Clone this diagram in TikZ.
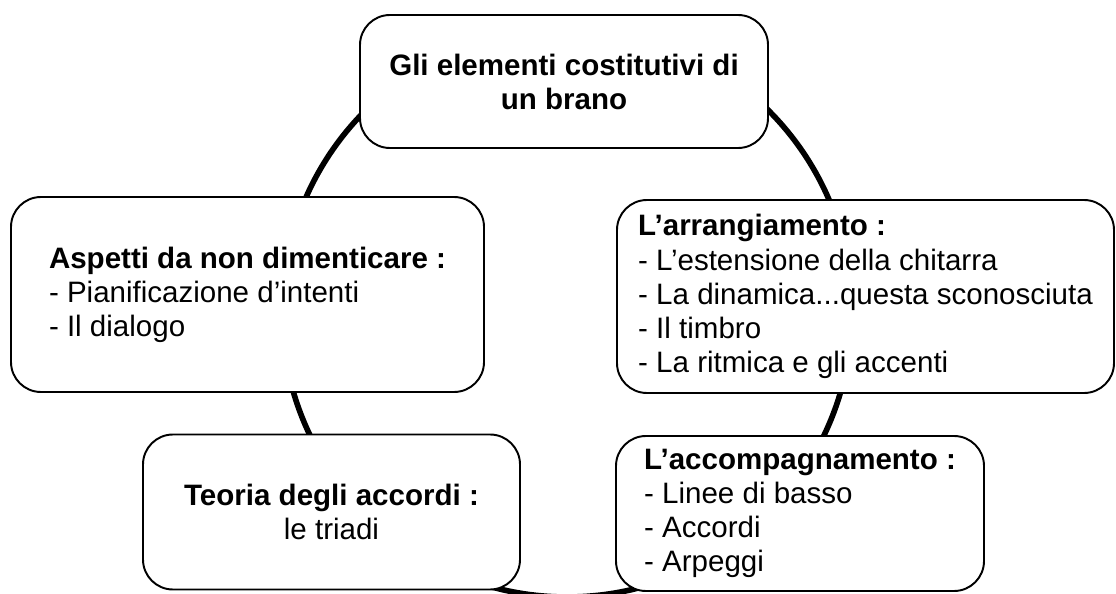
\documentclass[tikz,border=0pt]{standalone}
\usepackage{fontspec}
\setmainfont{Liberation Sans}
\usetikzlibrary{positioning}
\tikzset{elem/.style={draw, fill=white, line width=1.1pt, rounded corners=6mm,
                      inner sep=0pt, font=\fontsize{16.8}{19.4}\selectfont},
         ring/.style={line width=3.2pt},
         }

\begin{document}
\begin{tikzpicture}[x=1mm,y=1mm]
\useasboundingbox (0,0) rectangle (223.2,118.6);
\coordinate (mid) at (113.4,56.2);
\draw[ring] (mid) circle (57);
\node[elem, align=center, minimum width=81.6mm, minimum height=26.6mm] (brano) at (112.8,102.3)
    {\textbf{Gli elementi costitutivi di}\\\textbf{un brano}};
\node[elem, align=left, minimum width=94.6mm, minimum height=39mm] (aspetti) at (49.5,59.7)
    {\textbf{Aspetti da non dimenticare :}\\- Pianificazione d’intenti\\- Il dialogo};
\node[elem, align=left, minimum width=99.4mm, minimum height=38.6mm] (arrang) at (173.1,59.3)
    {\textbf{L’arrangiamento :}\\- L’estensione della chitarra\\- La dinamica...questa sconosciuta\\- Il timbro\\- La ritmica e gli accenti};
\node[elem, align=center, minimum width=75.4mm, minimum height=31mm] (teoria) at (66.3,16.2)
    {\textbf{Teoria degli accordi :}\\le triadi};
\node[elem, align=left, minimum width=73.6mm, minimum height=31mm] (accomp) at (160,15.9)
    {\textbf{L’accompagnamento :}\\- Linee di basso\\- Accordi\\- Arpeggi};
\end{tikzpicture}
\end{document}
